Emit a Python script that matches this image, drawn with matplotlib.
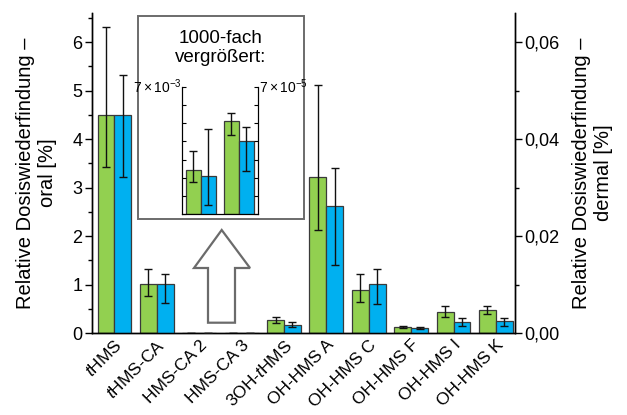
"""
relative dose recovery, oral vs dermal, with 1000x inset
output: out.png
"""

import numpy as np
import matplotlib.pyplot as plt
from matplotlib.patches import Rectangle, Polygon
from matplotlib.ticker import MultipleLocator, FuncFormatter

# -- DATA --
labels = [r"$\mathit{t}$HMS", r"$\mathit{t}$HMS-CA", "HMS-CA 2", "HMS-CA 3",
          r"3OH-$\mathit{t}$HMS", "OH-HMS A", "OH-HMS C", "OH-HMS F",
          "OH-HMS I", "OH-HMS K"]
oral = [4.50, 1.01, 0.0024, 0.0051, 0.27, 3.21, 0.89, 0.12, 0.44, 0.48]
oral_lo = [3.42, 0.77, 0.00174, 0.00437, 0.20, 2.12, 0.64, 0.10, 0.32, 0.39]
oral_hi = [6.31, 1.32, 0.00348, 0.00557, 0.33, 5.11, 1.22, 0.14, 0.55, 0.55]
dermal = [0.0450, 0.0101, 2.1e-5, 4.0e-5, 0.0017, 0.0261, 0.0101, 0.0010, 0.0023, 0.0025]
dermal_lo = [0.0322, 0.0061, 0.5e-5, 2.35e-5, 0.0013, 0.0141, 0.0059, 0.0008, 0.0014, 0.0014]
dermal_hi = [0.0532, 0.0121, 4.7e-5, 4.8e-5, 0.0022, 0.0340, 0.0131, 0.0012, 0.0030, 0.0030]
inset_idx = [2, 3]

# -- STYLE --
GREEN = "#92d050"
BLUE = "#00b0f0"
EDGE = "#3a3a3a"
plt.rcParams["font.family"] = ["Liberation Sans", "DejaVu Sans"]
plt.rcParams["mathtext.fontset"] = "custom"
plt.rcParams["mathtext.rm"] = "Liberation Sans"
plt.rcParams["mathtext.it"] = "Liberation Sans:italic"
plt.rcParams["mathtext.default"] = "regular"

W = 0.4
err_kw = dict(fmt="none", ecolor="#111111", elinewidth=1.0, capsize=2.6, capthick=1.0)


def yerr(v, lo, hi):
    v, lo, hi = np.array(v), np.array(lo), np.array(hi)
    return np.vstack([v - lo, hi - v])


fig = plt.figure(figsize=(6.27, 4.15), dpi=100)
ax = fig.add_axes([92 / 627, 1 - 333 / 415, (515 - 92) / 627, (333 - 13) / 415])
ax2 = ax.twinx()

x = np.arange(len(labels))
ax.bar(x - W / 2, oral, W, color=GREEN, edgecolor=EDGE, linewidth=0.9, zorder=2)
ax.errorbar(x - W / 2, oral, yerr=yerr(oral, oral_lo, oral_hi), zorder=3, **err_kw)
ax2.bar(x + W / 2, dermal, W, color=BLUE, edgecolor=EDGE, linewidth=0.9, zorder=2)
ax2.errorbar(x + W / 2, dermal, yerr=yerr(dermal, dermal_lo, dermal_hi), zorder=3, **err_kw)

ax.set_xlim(-0.53, 9.45)
ax.set_ylim(0, 6.6)
ax2.set_ylim(0, 0.066)
ax.yaxis.set_major_locator(MultipleLocator(1))
ax.yaxis.set_minor_locator(MultipleLocator(0.5))
ax2.yaxis.set_major_locator(MultipleLocator(0.02))
ax2.yaxis.set_minor_locator(MultipleLocator(0.01))
ax2.yaxis.set_major_formatter(FuncFormatter(lambda v, p: f"{v:.2f}".replace(".", ",")))

for a in (ax, ax2):
    a.spines["top"].set_visible(False)
    for s in a.spines.values():
        s.set_linewidth(1.0)
    a.tick_params(axis="y", which="major", direction="out", length=5, width=1.0,
                  labelsize=13, pad=2)
    a.tick_params(axis="y", which="minor", direction="out", length=3, width=1.0)

ax.set_xticks(x)
ax.set_xticklabels(labels, rotation=45, ha="right", rotation_mode="anchor", fontsize=12.5)
ax.tick_params(axis="x", length=0, pad=3)

ax.set_ylabel("Relative Dosiswiederfindung –\noral [%]", fontsize=14.5, labelpad=11)
ax2.set_ylabel("Relative Dosiswiederfindung –\ndermal [%]", fontsize=14.5,
               rotation=90, labelpad=9)

# -- INSET (1000x magnified) --
fig.patches.append(Rectangle((138 / 627, 1 - 219 / 415), 166 / 627, (219 - 15.7) / 415,
                             transform=fig.transFigure, facecolor="white",
                             edgecolor="#6b6b6b", linewidth=1.4, zorder=5))
fig.text(221 / 627, 1 - 48 / 415, "1000-fach\nvergrößert:", ha="center", va="center",
         fontsize=13.5, linespacing=1.1, zorder=6)

ins = fig.add_axes([181.7 / 627, 1 - 214 / 415, 76 / 627, 127 / 415], zorder=6)
ins.patch.set_alpha(0)
ins2 = ins.twinx()
xi = np.arange(len(inset_idx))
oi = [oral[i] for i in inset_idx]
di = [dermal[i] for i in inset_idx]
ins.bar(xi - W / 2, oi, W, color=GREEN, edgecolor=EDGE, linewidth=0.9)
ins.errorbar(xi - W / 2, oi, yerr=yerr(oi, [oral_lo[i] for i in inset_idx],
                                        [oral_hi[i] for i in inset_idx]), **err_kw)
ins2.bar(xi + W / 2, di, W, color=BLUE, edgecolor=EDGE, linewidth=0.9)
ins2.errorbar(xi + W / 2, di, yerr=yerr(di, [dermal_lo[i] for i in inset_idx],
                                         [dermal_hi[i] for i in inset_idx]), **err_kw)
ins.set_xlim(-0.5, 1.5)
ins.set_ylim(0, 7e-3)
ins2.set_ylim(0, 7e-5)
ins.set_yticks(np.arange(0, 8) * 1e-3)
ins2.set_yticks(np.arange(0, 8) * 1e-5)
ins.set_yticklabels([])
ins2.set_yticklabels([])
ins.set_xticks(xi)
ins.set_xticklabels([])
ins.tick_params(axis="x", direction="in", length=2)
for a in (ins, ins2):
    a.spines["top"].set_visible(False)
    a.tick_params(axis="y", direction="in", length=3, width=0.8)
ins.text(0, 1, r"$7\times10^{-3}$", transform=ins.transAxes, ha="right", va="center",
         fontsize=10)
ins2.text(1.02, 1, r"$7\times10^{-5}$", transform=ins2.transAxes, ha="left", va="center",
          fontsize=10)

# -- ARROW --
arrow_px = [(221.7, 230), (250, 268), (235, 268), (235, 322.7),
            (208, 322.7), (208, 268), (194, 268)]
fig.patches.append(Polygon([(px / 627, 1 - py / 415) for px, py in arrow_px], closed=True,
                           transform=fig.transFigure, facecolor="white",
                           edgecolor="#6b6b6b", linewidth=1.6, zorder=5))

fig.savefig("out.png", dpi=100)
